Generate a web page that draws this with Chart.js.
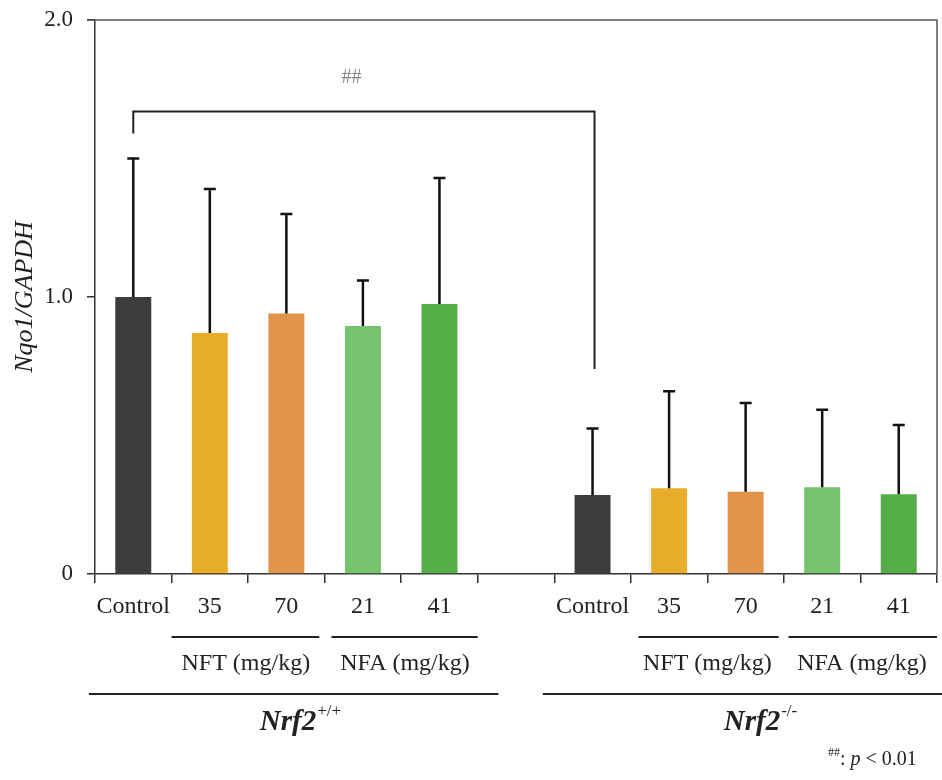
<!DOCTYPE html>
<html>
<head>
<meta charset="utf-8">
<script src="https://cdn.jsdelivr.net/npm/chart.js@4.4.1/dist/chart.umd.min.js"></script>
<style>
  html, body { margin: 0; padding: 0; background: #fff; }
  #wrap { width: 942px; height: 780px; }
</style>
</head>
<body>
<div id="wrap"><canvas id="bar-chart" width="942" height="780"></canvas></div>
<script>
// categories (one empty slot between the two genotypes)
var labels = ["Control", "35", "70", "21", "41", "", "Control", "35", "70", "21", "41"];
var means  = [1.00, 0.87, 0.94, 0.895, 0.975, null, 0.285, 0.31, 0.297, 0.313, 0.288];
var sds    = [0.50, 0.52, 0.36, 0.165, 0.455, null, 0.24, 0.35, 0.32, 0.28, 0.25];
var barColors = ["#3b3e3d", "#e9ad2c", "#e0944b", "#75c36c", "#55ad47", "#ffffff",
                 "#3b3e3d", "#e9ad2c", "#e0944b", "#75c36c", "#55ad47"];
var yTicks = [0, 1, 2];
var yTickText = ["0", "1.0", "2.0"];

// significance bracket: Nrf2+/+ control vs Nrf2-/- control
var bracketFrom = 0, bracketTo = 6;
var bracketLevel = 1.67, bracketLeftEnd = 1.59, bracketRightEnd = 0.74;

var serif = "'Liberation Serif', 'Times New Roman', serif";

var extras = {
  id: 'extras',
  afterDatasetsDraw: function(chart) {
    var ctx = chart.ctx, x = chart.scales.x, y = chart.scales.y;
    var area = chart.chartArea;
    ctx.save();
    // frame top and right
    ctx.strokeStyle = '#555';
    ctx.lineWidth = 1.5;
    ctx.beginPath();
    ctx.moveTo(area.left - 8, area.top);
    ctx.lineTo(area.right, area.top);
    ctx.lineTo(area.right, area.bottom);
    ctx.stroke();

    // error bars (upper only)
    ctx.strokeStyle = '#111';
    ctx.lineWidth = 2.5;
    for (var i = 0; i < means.length; i++) {
      if (means[i] === null) continue;
      var px = x.getPixelForValue(i);
      var y0 = y.getPixelForValue(means[i]);
      var y1 = y.getPixelForValue(means[i] + sds[i]);
      ctx.beginPath();
      ctx.moveTo(px, y0);
      ctx.lineTo(px, y1);
      ctx.moveTo(px - 6, y1);
      ctx.lineTo(px + 6, y1);
      ctx.stroke();
    }

    // bracket
    ctx.lineWidth = 2;
    ctx.strokeStyle = '#222';
    var bx0 = x.getPixelForValue(bracketFrom), bx1 = x.getPixelForValue(bracketTo) + 2;
    ctx.beginPath();
    ctx.moveTo(bx0, y.getPixelForValue(bracketLeftEnd));
    ctx.lineTo(bx0, y.getPixelForValue(bracketLevel));
    ctx.lineTo(bx1, y.getPixelForValue(bracketLevel));
    ctx.lineTo(bx1, y.getPixelForValue(bracketRightEnd));
    ctx.stroke();
    ctx.fillStyle = '#888';
    ctx.font = '20px ' + serif;
    ctx.textAlign = 'center';
    ctx.textBaseline = 'middle';
    ctx.fillText('##', x.getPixelForValue(2.85), y.getPixelForValue(1.79));

    // group lines and labels under the axis
    var b = area.bottom;
    ctx.strokeStyle = '#222';
    ctx.lineWidth = 2;
    function hline(a, c, yy) {
      ctx.beginPath();
      ctx.moveTo(x.getPixelForValue(a), yy);
      ctx.lineTo(x.getPixelForValue(c), yy);
      ctx.stroke();
    }
    hline(0.5, 2.43, b + 63);
    hline(2.59, 4.5, b + 63);
    hline(6.6, 8.43, b + 63);
    hline(8.56, 10.5, b + 63);
    hline(-0.58, 4.77, b + 120);
    hline(5.35, 11.1, b + 120);

    ctx.fillStyle = '#222';
    ctx.font = '24px ' + serif;
    ctx.fillText('NFT (mg/kg)', x.getPixelForValue(1.47), b + 90);
    ctx.fillText('NFA (mg/kg)', x.getPixelForValue(3.55), b + 90);
    ctx.fillText('NFT (mg/kg)', x.getPixelForValue(7.5), b + 90);
    ctx.fillText('NFA (mg/kg)', x.getPixelForValue(9.52), b + 90);

    function genotype(sup, cx) {
      ctx.font = 'italic bold 29px ' + serif;
      var w1 = ctx.measureText('Nrf2').width;
      ctx.font = '17px ' + serif;
      var w2 = ctx.measureText(sup).width;
      var sx = cx - (w1 + w2) / 2;
      ctx.textAlign = 'left';
      ctx.font = 'italic bold 29px ' + serif;
      ctx.fillText('Nrf2', sx, b + 149);
      ctx.font = '17px ' + serif;
      ctx.fillText(sup, sx + w1 + 1, b + 138);
      ctx.textAlign = 'center';
    }
    genotype('+/+', 300);
    genotype('-/-', 760);

    // footnote
    ctx.textAlign = 'left';
    ctx.font = '12px ' + serif;
    ctx.fillText('##', 828, 753);
    var fx = 828 + ctx.measureText('##').width;
    ctx.font = '20px ' + serif;
    ctx.fillText(': ', fx, 760);
    fx += ctx.measureText(': ').width;
    ctx.font = 'italic 20px ' + serif;
    ctx.fillText('p', fx, 760);
    fx += ctx.measureText('p ').width;
    ctx.font = '20px ' + serif;
    ctx.fillText('< 0.01', fx, 760);

    // y axis title
    ctx.translate(25, y.getPixelForValue(1));
    ctx.rotate(-Math.PI / 2);
    ctx.textAlign = 'center';
    ctx.font = 'italic 26px ' + serif;
    ctx.fillText('Nqo1/GAPDH', 0, 0);
    ctx.restore();
  }
};

new Chart(document.getElementById("bar-chart"), {
  type: 'bar',
  data: {
    labels: labels,
    datasets: [{
      data: means,
      backgroundColor: barColors,
      borderWidth: 0,
      barPercentage: 0.47,
      categoryPercentage: 1.0
    }]
  },
  options: {
    responsive: false,
    animation: false,
    layout: { padding: { top: 20, right: 5, left: 0, bottom: 0 } },
    plugins: {
      legend: { display: false },
      tooltip: { enabled: false },
      title: { display: false }
    },
    scales: {
      x: {
        offset: true,
        grid: { offset: true, drawOnChartArea: false, tickLength: 9, color: '#333', lineWidth: 1.5 },
        border: { color: '#333', width: 1.5 },
        ticks: { color: '#222', font: { family: serif, size: 24 }, padding: 9, maxRotation: 0, autoSkip: false },
        afterFit: function(s) { s.height = 206; }
      },
      y: {
        min: 0,
        max: 2,
        afterBuildTicks: function(s) { s.ticks = yTicks.map(function(v) { return { value: v }; }); },
        grid: { drawOnChartArea: false, tickLength: 8, color: '#333', lineWidth: 1.5 },
        border: { color: '#333', width: 1.5 },
        ticks: {
          color: '#222',
          font: { family: serif, size: 23 },
          padding: 14,
          callback: function(v) { return yTickText[yTicks.indexOf(v)]; }
        },
        afterFit: function(s) { s.width = 95; s.paddingTop = 0; s.paddingBottom = 0; }
      }
    }
  },
  plugins: [extras]
});
</script>
</body>
</html>
